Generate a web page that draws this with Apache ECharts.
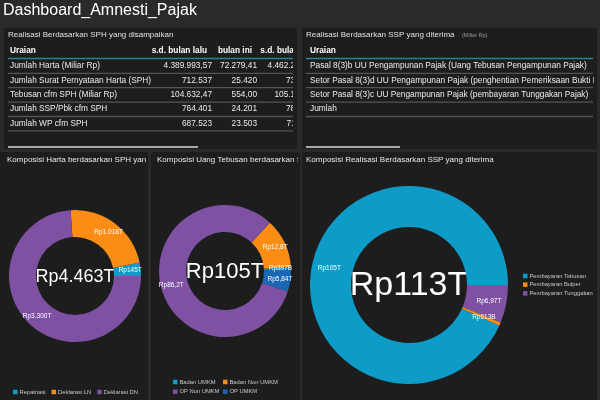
<!DOCTYPE html>
<html><head><meta charset="utf-8">
<script src="https://cdn.jsdelivr.net/npm/echarts@6/dist/echarts.min.js"></script>
<style>html,body{margin:0;padding:0;background:#2a2a2a;}#c{width:600px;height:400px;}</style>
</head><body><div id="c"></div>
<script>
// ---- data ----
const dashTitle = 'Dashboard_Amnesti_Pajak';
const sphSubtitle = 'Realisasi Berdasarkan SPH yang disampaikan';
const sphHeaders = ['Uraian', 's.d. bulan lalu', 'bulan ini', 's.d. bulan ini'];
const sphRows = ['Jumlah Harta (Miliar Rp)', 'Jumlah Surat Pernyataan Harta (SPH)', 'Tebusan cfm SPH (Miliar Rp)', 'Jumlah SSP/Pbk cfm SPH', 'Jumlah WP cfm SPH'];
const sphPrev = ['4.389.993,57', '712.537', '104.632,47', '764.401', '687.523'];
const sphThis = ['72.279,41', '25.420', '554,00', '24.201', '23.503'];
const sphTotal = ['4.462.272,98', '737.957', '105.186,47', '788.602', '711.026'];

const sspSubtitle = 'Realisasi Berdasarkan SSP yang diterima';
const sspUnit = '(Miliar Rp)';
const sspHeaders = ['Uraian'];
const sspRows = ['Pasal 8(3)b UU Pengampunan Pajak (Uang Tebusan Pengampunan Pajak)',
  'Setor Pasal 8(3)d UU Pengampunan Pajak (penghentian Pemeriksaan Bukti Permulaan)',
  'Setor Pasal 8(3)c UU Pengampunan Pajak (pembayaran Tunggakan Pajak)',
  'Jumlah'];

const hartaTitle = 'Komposisi Harta berdasarkan SPH yang disampaikan';
const hartaNames = ['Repatriasi', 'Deklarasi LN', 'Deklarasi DN'];
const hartaValues = [145, 1018, 3300];

const tebusanTitle = 'Komposisi Uang Tebusan berdasarkan SPH yang disampaikan';
const tebusanNames = ['Badan UMKM', 'Badan Non UMKM', 'OP Non UMKM', 'OP UMKM'];
const tebusanValues = [0.397, 12.8, 86.2, 5.84];

const sspPieTitle = 'Komposisi Realisasi Berdasarkan SSP yang diterima';
const sspNames = ['Pembayaran Tebusan', 'Pembayaran Bulper', 'Pembayaran Tunggakan'];
const sspValues = [105, 0.613, 6.97];

// ---- styles ----
const FONT = '"Liberation Sans", Arial, sans-serif';
const BG = '#2a2a2a', PANEL = '#1d1d1d';
const hartaColors = ['#0d9cc8', '#fb8c14', '#7e51a2'];
const tebusanColors = ['#0d9cc8', '#fb8c14', '#7e51a2', '#1c68b4'];
const sspColors = ['#0d9cc8', '#fb8c14', '#7e51a2'];

function thousands(n) { return String(n).replace(/\B(?=(\d{3})+(?!\d))/g, '.'); }
function fmtT(v) {
  if (v < 1) return 'Rp' + Math.round(v * 1000) + 'B';
  if (v >= 100) return 'Rp' + thousands(Math.round(v)) + 'T';
  return 'Rp' + v.toPrecision(3).replace('.', ',') + 'T';
}
const sum = a => a.reduce((s, x) => s + x, 0);

const g = [];
function rect(x, y, w, h, fill, lv) {
  g.push({ type: 'rect', zlevel: lv, z: 0, silent: true, shape: { x, y, width: w, height: h },
    style: { fill } });
}
function text(x, y, t, size, fill, lv, opts) {
  opts = opts || {};
  g.push({ type: 'text', zlevel: lv, z: 1, silent: true, x, y,
    style: { text: t, fill, fontSize: size, fontFamily: FONT, fontWeight: opts.bold ? 'bold' : 'normal',
      textAlign: opts.align || 'left', textVerticalAlign: 'middle' } });
}
function hline(x1, x2, y, color, w, lv) {
  g.push({ type: 'line', zlevel: lv, z: 1, silent: true, shape: { x1, y1: y, x2, y2: y }, style: { stroke: color, lineWidth: w } });
}

// title
text(3, 11, dashTitle, 16, '#ffffff', 0);

// panels
rect(4, 28, 293, 121, PANEL, 0);
rect(302, 28, 295, 121, PANEL, 0);
rect(0, 152, 148, 248, PANEL, 0);
rect(151, 152, 149, 248, PANEL, 0);
rect(302, 152, 295, 248, PANEL, 0);

// SPH table (layer 0)
const rowY0 = 66, rowH = 14.4;
const colRight = [212, 257, 316];
text(8, 35, sphSubtitle, 8, '#e0e0e0', 0);
text(10, 51, sphHeaders[0], 8.3, '#ffffff', 0, { bold: true });
for (let c = 1; c < sphHeaders.length; c++) text(colRight[c - 1] - 5, 51, sphHeaders[c], 8.3, '#ffffff', 0, { bold: true, align: 'right' });
hline(8, 320, 58.5, '#2f7f95', 1.5, 0);
const sphCols = [sphPrev, sphThis, sphTotal];
sphRows.forEach((r, i) => {
  const y = rowY0 + i * rowH;
  text(10, y, r, 8.3, '#ececec', 0);
  sphCols.forEach((col, c) => text(colRight[c], y, col[i], 8.3, '#ececec', 0, { align: 'right' }));
  hline(8, 320, y + 7.3, '#555555', 1.3, 0);
});
rect(8, 146, 190, 2, '#a8a8a8', 0);
// clip cover (layer 1)
rect(293, 29, 4, 119, PANEL, 1);
rect(297, 28, 5, 122, BG, 1);
rect(302, 28, 295, 121, PANEL, 1);

// SSP table (layer 2)
text(306, 35, sspSubtitle, 8, '#e0e0e0', 2);
text(462, 35.5, sspUnit, 5.5, '#9a9a9a', 2);
text(310, 51, sspHeaders[0], 8.3, '#ffffff', 2, { bold: true });
hline(306, 593, 58.5, '#2f7f95', 1.5, 2);
sspRows.forEach((r, i) => {
  const y = rowY0 + i * rowH;
  text(310, y, r, 8.3, '#ececec', 2);
  hline(306, 593, y + 7.3, '#555555', 1.3, 2);
});
rect(306, 146, 94, 2, '#a8a8a8', 2);
rect(594, 29, 3, 119, PANEL, 3);
rect(597, 0, 3, 400, BG, 3);

// bottom panel titles
text(7, 160, hartaTitle, 8, '#e8e8e8', 0);
rect(146, 153, 2, 14, PANEL, 1);
rect(148, 152, 3, 16, BG, 1);
rect(151, 153, 149, 14, PANEL, 1);
text(157, 160, tebusanTitle, 8, '#e8e8e8', 2);
rect(298, 153, 2, 14, PANEL, 3);
rect(300, 152, 2, 16, BG, 3);
rect(302, 153, 120, 14, PANEL, 3);
text(306, 160, sspPieTitle, 8, '#e8e8e8', 4);

// center totals
const pies = [
  { c: [75, 276], r: [39, 66], total: sum(hartaValues), size: 18 },
  { c: [225, 271], r: [39, 66], total: sum(tebusanValues), size: 22 },
  { c: [409, 285], r: [58, 99], total: sum(sspValues), size: 34 }
];
pies.forEach(p => text(p.c[0], p.c[1] + 1, fmtT(p.total), p.size, '#ffffff', 0, { align: 'center' }));

function pieData(names, values, colors, order) {
  return order.map(i => ({ name: names[i], value: values[i], itemStyle: { color: colors[i] } }));
}
const lbl = { show: true, position: 'inside', color: '#ffffff', fontSize: 6.5, fontFamily: FONT,
  textBorderWidth: 0, formatter: p => fmtT(p.value) };
function pieSeries(p, data, start, clockwise) {
  return { type: 'pie', center: p.c, radius: p.r, startAngle: start, clockwise, data,
    label: lbl, labelLine: { show: false }, silent: true, avoidLabelOverlap: false,
    emphasis: { disabled: true }, itemStyle: { borderWidth: 0 } };
}
const legendText = { color: '#c8c8c8', fontSize: 5.8, fontFamily: FONT, padding: [0, 0, 0, -3] };
function legend(names, left, top, orient, gap) {
  return { data: names, left, top, orient, itemWidth: 4.5, itemHeight: 4.5, itemGap: gap, icon: 'rect',
    textStyle: legendText, padding: 0, selectedMode: false };
}

const chart = echarts.init(document.getElementById('c'), null, { renderer: 'canvas' });
chart.setOption({
  backgroundColor: BG,
  animation: false,
  graphic: { elements: g },
  legend: [
    legend(hartaNames, 13, 389, 'horizontal', 6),
    legend([tebusanNames[0], tebusanNames[2]], 173, 379, 'vertical', 3.7),
    legend([tebusanNames[1], tebusanNames[3]], 223, 379, 'vertical', 3.7),
    legend(sspNames, 523, 273, 'vertical', 2.7)
  ],
  series: [
    pieSeries(pies[0], pieData(hartaNames, hartaValues, hartaColors, [0, 1, 2]), 0, false),
    pieSeries(pies[1], pieData(tebusanNames, tebusanValues, tebusanColors, [3, 0, 1, 2]), 342, false),
    pieSeries(pies[2], pieData(sspNames, sspValues, sspColors, [2, 1, 0]), 0, true)
  ]
});
</script></body></html>
